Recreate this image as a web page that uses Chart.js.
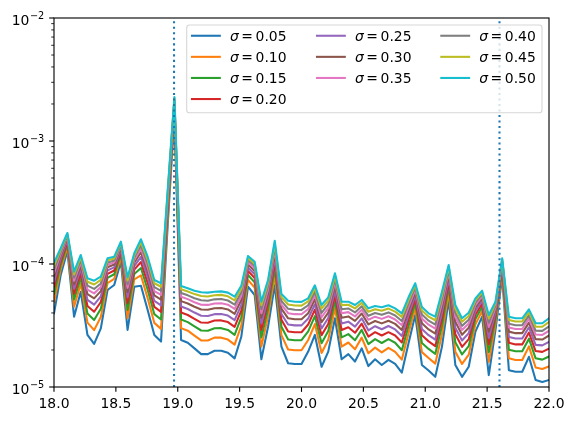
<!DOCTYPE html>
<html>
<head>
<meta charset="utf-8">
<script src="https://cdn.jsdelivr.net/npm/chart.js@4.4.1/dist/chart.umd.min.js"></script>
<style>
html,body{margin:0;padding:0;background:#ffffff;}
#wrap{width:574px;height:421px;}
</style>
</head>
<body>
<div id="wrap"><canvas id="c" width="574" height="421"></canvas></div>
<script>
// ---------------- data ----------------
const xValues = [
  18.0000,18.0541,18.1081,18.1622,18.2162,18.2703,18.3243,18.3784,18.4324,18.4865,
  18.5405,18.5946,18.6486,18.7027,18.7568,18.8108,18.8649,18.9189,18.9730,19.0270,
  19.0811,19.1351,19.1892,19.2432,19.2973,19.3514,19.4054,19.4595,19.5135,19.5676,
  19.6216,19.6757,19.7297,19.7838,19.8378,19.8919,19.9459,20.0000,20.0541,20.1081,
  20.1622,20.2162,20.2703,20.3243,20.3784,20.4324,20.4865,20.5405,20.5946,20.6486,
  20.7027,20.7568,20.8108,20.8649,20.9189,20.9730,21.0270,21.0811,21.1351,21.1892,
  21.2432,21.2973,21.3514,21.4054,21.4595,21.5135,21.5676,21.6216,21.6757,21.7297,
  21.7838,21.8378,21.8919,21.9459,22.0000
];

// series values, in units of 1e-5
const UNIT = 1e-5;
const sigma005 = [3.97,8.14,12.76,3.73,5.95,2.65,2.24,3.00,6.15,6.75, 10.44,2.91,6.54,6.66,4.23,2.65,2.34,20.75,159.7,2.41, 2.29,2.06,1.85,1.85,1.97,1.97,1.90,1.71,2.56,6.54, 5.60,1.68,3.09,6.75,2.13,1.56,1.54,1.54,1.94,2.65, 1.46,1.94,3.62,1.68,1.85,1.61,2.06,1.48,1.68,1.51, 1.66,1.54,1.31,2.27,3.85,1.51,1.36,1.21,2.13,5.10, 1.51,1.21,1.46,2.82,3.73,1.25,2.91,7.88,1.37,1.33, 1.33,1.76,1.14,1.10,1.14];
const sigma010 = [4.89,9.09,13.74,4.49,6.93,3.34,2.90,3.71,7.00,7.58, 11.34,3.61,7.50,8.07,5.27,3.32,2.97,23.98,172.7,3.01, 2.87,2.62,2.39,2.39,2.52,2.52,2.43,2.21,3.16,7.42, 6.42,2.13,3.75,8.10,2.64,2.02,1.99,1.99,2.41,3.25, 1.89,2.42,4.36,2.13,2.30,2.03,2.52,1.88,2.09,1.91, 2.08,1.93,1.67,2.74,4.39,1.92,1.72,1.55,2.67,5.89, 1.93,1.54,1.83,3.23,4.15,1.60,3.27,8.50,1.71,1.66, 1.66,2.14,1.44,1.40,1.47];
const sigma015 = [5.69,9.83,14.50,5.14,7.73,3.96,3.51,4.33,7.70,8.25, 12.04,4.23,8.29,9.27,6.17,3.91,3.54,26.62,182.8,3.54, 3.37,3.11,2.88,2.87,3.00,3.01,2.91,2.65,3.69,8.14, 7.09,2.53,4.31,9.25,3.09,2.43,2.40,2.40,2.83,3.77, 2.27,2.85,4.98,2.53,2.69,2.40,2.91,2.23,2.45,2.28, 2.45,2.29,1.99,3.14,4.82,2.28,2.04,1.86,3.15,6.54, 2.31,1.84,2.15,3.57,4.49,1.92,3.55,8.99,2.01,1.95, 1.95,2.47,1.71,1.67,1.77];
const sigma020 = [6.44,10.50,15.15,5.73,8.45,4.55,4.09,4.91,8.32,8.85, 12.64,4.81,8.99,10.37,7.03,4.48,4.08,29.00,191.4,4.04, 3.85,3.58,3.34,3.33,3.47,3.48,3.37,3.08,4.17,8.77, 7.69,2.91,4.83,10.30,3.52,2.83,2.79,2.79,3.22,4.26, 2.64,3.25,5.56,2.91,3.06,2.76,3.27,2.57,2.79,2.62, 2.79,2.62,2.30,3.52,5.21,2.63,2.35,2.15,3.59,7.12, 2.68,2.12,2.45,3.87,4.78,2.22,3.81,9.40,2.29,2.22, 2.22,2.77,1.96,1.93,2.05];
const sigma025 = [7.15,11.11,15.72,6.29,9.12,5.11,4.67,5.46,8.88,9.38, 13.17,5.36,9.63,11.41,7.85,5.01,4.60,31.15,199.1,4.51, 4.31,4.03,3.80,3.78,3.91,3.92,3.81,3.50,4.63,9.34, 8.24,3.28,5.32,11.29,3.92,3.22,3.17,3.17,3.60,4.71, 2.99,3.64,6.10,3.28,3.40,3.10,3.62,2.89,3.12,2.95, 3.13,2.94,2.60,3.87,5.56,2.96,2.64,2.43,4.03,7.65, 3.03,2.39,2.74,4.15,5.04,2.51,4.04,9.76,2.55,2.48, 2.48,3.06,2.20,2.18,2.33];
const sigma030 = [7.85,11.66,16.26,6.84,9.76,5.68,5.25,6.02,9.42,9.89, 13.67,5.91,10.26,12.45,8.67,5.56,5.13,33.27,206.3,4.99, 4.77,4.49,4.26,4.24,4.37,4.39,4.27,3.93,5.10,9.89, 8.77,3.65,5.80,12.27,4.33,3.62,3.56,3.55,3.98,5.17, 3.36,4.03,6.64,3.65,3.75,3.45,3.96,3.23,3.44,3.29, 3.46,3.26,2.91,4.21,5.90,3.30,2.94,2.72,4.46,8.17, 3.39,2.66,3.03,4.42,5.29,2.81,4.26,10.10,2.82,2.74, 2.74,3.34,2.45,2.43,2.62];
const sigma035 = [8.48,12.15,16.71,7.31,10.31,6.19,5.77,6.50,9.88,10.31, 14.09,6.40,10.78,13.35,9.39,6.03,5.60,35.05,212.3,5.41, 5.18,4.89,4.67,4.65,4.78,4.80,4.67,4.31,5.50,10.35, 9.22,3.98,6.22,13.10,4.68,3.98,3.91,3.90,4.31,5.57, 3.69,4.37,7.10,3.98,4.06,3.75,4.25,3.52,3.73,3.58, 3.76,3.54,3.18,4.51,6.19,3.60,3.21,2.98,4.85,8.61, 3.71,2.91,3.28,4.64,5.50,3.08,4.44,10.38,3.05,2.96, 2.96,3.59,2.67,2.65,2.87];
const sigma040 = [9.05,12.57,17.10,7.76,10.82,6.67,6.27,6.95,10.30,10.70, 14.46,6.86,11.27,14.19,10.07,6.48,6.05,36.70,217.6,5.81, 5.56,5.27,5.07,5.03,5.16,5.19,5.05,4.67,5.89,10.78, 9.63,4.29,6.62,13.88,5.02,4.32,4.24,4.23,4.62,5.95, 4.00,4.70,7.53,4.29,4.35,4.04,4.53,3.79,4.00,3.86, 4.04,3.81,3.44,4.79,6.45,3.88,3.46,3.22,5.21,9.01, 4.01,3.14,3.52,4.85,5.69,3.33,4.61,10.64,3.27,3.18, 3.18,3.82,2.87,2.86,3.11];
const sigma045 = [9.69,13.02,17.51,8.23,11.36,7.18,6.81,7.44,10.74,11.10, 14.85,7.35,11.77,15.08,10.80,6.97,6.53,38.42,223.1,6.23, 5.97,5.69,5.49,5.45,5.57,5.61,5.46,5.06,6.29,11.22, 10.06,4.63,7.04,14.72,5.38,4.69,4.60,4.59,4.96,6.35, 4.33,5.04,7.99,4.63,4.66,4.36,4.83,4.09,4.29,4.17, 4.34,4.10,3.72,5.09,6.73,4.19,3.73,3.49,5.60,9.44, 4.34,3.39,3.78,5.07,5.89,3.60,4.78,10.90,3.51,3.41, 3.41,4.06,3.09,3.09,3.38];
const sigma050 = [10.25,13.42,17.87,8.66,11.84,7.65,7.32,7.88,11.13,11.47, 15.18,7.80,12.22,15.88,11.46,7.41,6.97,39.96,227.9,6.62, 6.35,6.07,5.89,5.85,5.95,5.99,5.85,5.42,6.66,11.61, 10.44,4.94,7.41,15.47,5.70,5.03,4.94,4.92,5.26,6.71, 4.64,5.36,8.41,4.94,4.94,4.64,5.10,4.36,4.56,4.45, 4.62,4.36,3.97,5.36,6.97,4.47,3.97,3.73,5.95,9.81, 4.64,3.62,4.02,5.26,6.07,3.85,4.94,11.13,3.73,3.62, 3.62,4.28,3.30,3.30,3.62];

const sigmaLabels = ['0.05','0.10','0.15','0.20','0.25','0.30','0.35','0.40','0.45','0.50'];
const seriesValues = [sigma005,sigma010,sigma015,sigma020,sigma025,sigma030,sigma035,sigma040,sigma045,sigma050];
const seriesColors = ['#1f77b4','#ff7f0e','#2ca02c','#d62728','#9467bd','#8c564b','#e377c2','#7f7f7f','#bcbd22','#17becf'];

const xTickValues = [18.0,18.5,19.0,19.5,20.0,20.5,21.0,21.5,22.0];
const xTickLabels = ['18.0','18.5','19.0','19.5','20.0','20.5','21.0','21.5','22.0'];
const yTickValues = [1e-5,1e-4,1e-3,1e-2];
const yTickExponents = ['\u22125','\u22124','\u22123','\u22122'];
const yMinorTickValues = [];
[1e-5,1e-4,1e-3].forEach(d => { for (let m = 2; m <= 9; m++) yMinorTickValues.push(m*d); });
const verticalMarkers = [18.97, 21.6];

// ---------------- drawing ----------------
const FONT = '"DejaVu Sans", "Liberation Sans", sans-serif';
const FS = 13.9;

const mplPlugin = {
  id: 'mplAxes',
  afterDatasetsDraw(chart) {
    const ctx = chart.ctx, a = chart.chartArea, xs = chart.scales.x, ys = chart.scales.y;
    ctx.save();
    // dotted vertical markers
    ctx.strokeStyle = '#1f77b4';
    ctx.lineWidth = 2.08;
    ctx.lineCap = 'butt';
    ctx.setLineDash([2.08, 3.43]);
    verticalMarkers.forEach(v => {
      const px = xs.getPixelForValue(v);
      ctx.beginPath(); ctx.moveTo(px, a.bottom); ctx.lineTo(px, a.top); ctx.stroke();
    });
    ctx.setLineDash([]);

    // spines
    ctx.strokeStyle = '#000'; ctx.lineWidth = 1.11; ctx.lineCap = 'square';
    ctx.strokeRect(a.left, a.top, a.right - a.left, a.bottom - a.top);
    ctx.lineCap = 'butt';

    // x ticks + labels
    ctx.fillStyle = '#000';
    ctx.font = FS + 'px ' + FONT;
    ctx.textAlign = 'center'; ctx.textBaseline = 'alphabetic';
    xTickValues.forEach((v, i) => {
      const px = xs.getPixelForValue(v);
      ctx.beginPath(); ctx.moveTo(px, a.bottom); ctx.lineTo(px, a.bottom + 4.86); ctx.stroke();
      ctx.fillText(xTickLabels[i], px, a.bottom + 21.4);
    });

    // y major ticks + labels
    yTickValues.forEach((v, i) => {
      const py = ys.getPixelForValue(v);
      ctx.lineWidth = 1.11;
      ctx.beginPath(); ctx.moveTo(a.left, py); ctx.lineTo(a.left - 4.86, py); ctx.stroke();
      ctx.font = FS + 'px ' + FONT;
      const w10 = ctx.measureText('10').width;
      ctx.font = (FS * 0.7) + 'px ' + FONT;
      const wSup = ctx.measureText(yTickExponents[i]).width;
      const right = a.left - 9.72;
      const start = right - (w10 + wSup + 0.6);
      ctx.textAlign = 'left';
      ctx.font = FS + 'px ' + FONT;
      ctx.fillText('10', start, py + 6.8);
      ctx.font = (FS * 0.7) + 'px ' + FONT;
      ctx.fillText(yTickExponents[i], start + w10 + 0.6, py + 0.9);
    });
    // y minor ticks
    ctx.lineWidth = 0.83;
    yMinorTickValues.forEach(v => {
      const py = ys.getPixelForValue(v);
      ctx.beginPath(); ctx.moveTo(a.left, py); ctx.lineTo(a.left - 2.78, py); ctx.stroke();
    });

    // legend (3 columns, column-major as in matplotlib)
    const lx = a.right - 362.3, ly = a.top + 7, lw = 355.3, lh = 87.7, r = 2.78;
    ctx.beginPath();
    ctx.moveTo(lx + r, ly);
    ctx.lineTo(lx + lw - r, ly); ctx.arcTo(lx + lw, ly, lx + lw, ly + r, r);
    ctx.lineTo(lx + lw, ly + lh - r); ctx.arcTo(lx + lw, ly + lh, lx + lw - r, ly + lh, r);
    ctx.lineTo(lx + r, ly + lh); ctx.arcTo(lx, ly + lh, lx, ly + lh - r, r);
    ctx.lineTo(lx, ly + r); ctx.arcTo(lx, ly, lx + r, ly, r);
    ctx.closePath();
    ctx.fillStyle = 'rgba(255,255,255,0.8)'; ctx.fill();
    ctx.strokeStyle = 'rgba(204,204,204,0.8)'; ctx.lineWidth = 1.11; ctx.stroke();

    const colOffsets = [4.3, 129.3, 253.6];
    const counts = [4, 3, 3];
    let k = 0;
    for (let c = 0; c < 3; c++) {
      for (let rr = 0; rr < counts[c]; rr++, k++) {
        const cy = ly + 10.75 + rr * 21.1;
        const hx = lx + colOffsets[c];
        ctx.strokeStyle = seriesColors[k]; ctx.lineWidth = 2.08; ctx.lineCap = 'square';
        ctx.beginPath(); ctx.moveTo(hx + 1, cy); ctx.lineTo(hx + 28.8, cy); ctx.stroke();
        ctx.lineCap = 'butt';
        let tx = hx + 38.9;
        const base = cy + 5;
        ctx.fillStyle = '#000'; ctx.textAlign = 'left';
        ctx.font = 'italic ' + FS + 'px ' + FONT;
        ctx.fillText('\u03c3', tx, base);
        tx += ctx.measureText('\u03c3').width + 2.6;
        ctx.font = FS + 'px ' + FONT;
        ctx.fillText('=', tx, base);
        tx += ctx.measureText('=').width + 2.6;
        ctx.fillText(sigmaLabels[k], tx, base);
      }
    }
    ctx.restore();
  }
};

const datasets = seriesValues.map((vals, k) => ({
  label: '\u03c3 = ' + sigmaLabels[k],
  data: xValues.map((x, i) => ({ x: x, y: vals[i] * UNIT })),
  borderColor: seriesColors[k],
  backgroundColor: seriesColors[k],
  borderWidth: 2.08,
  pointRadius: 0,
  pointHoverRadius: 0,
  tension: 0,
  fill: false,
  borderJoinStyle: 'round',
  borderCapStyle: 'square',
  order: seriesValues.length - k
}));

new Chart(document.getElementById('c'), {
  type: 'line',
  data: { datasets: datasets },
  options: {
    responsive: false,
    animation: false,
    devicePixelRatio: 1,
    layout: { padding: { left: 54, right: 25, top: 18, bottom: 34 } },
    plugins: { legend: { display: false }, tooltip: { enabled: false } },
    events: [],
    scales: {
      x: { type: 'linear', min: 18, max: 22, display: false },
      y: { type: 'logarithmic', min: 1e-5, max: 1e-2, display: false }
    }
  },
  plugins: [mplPlugin]
});
</script>
</body>
</html>
